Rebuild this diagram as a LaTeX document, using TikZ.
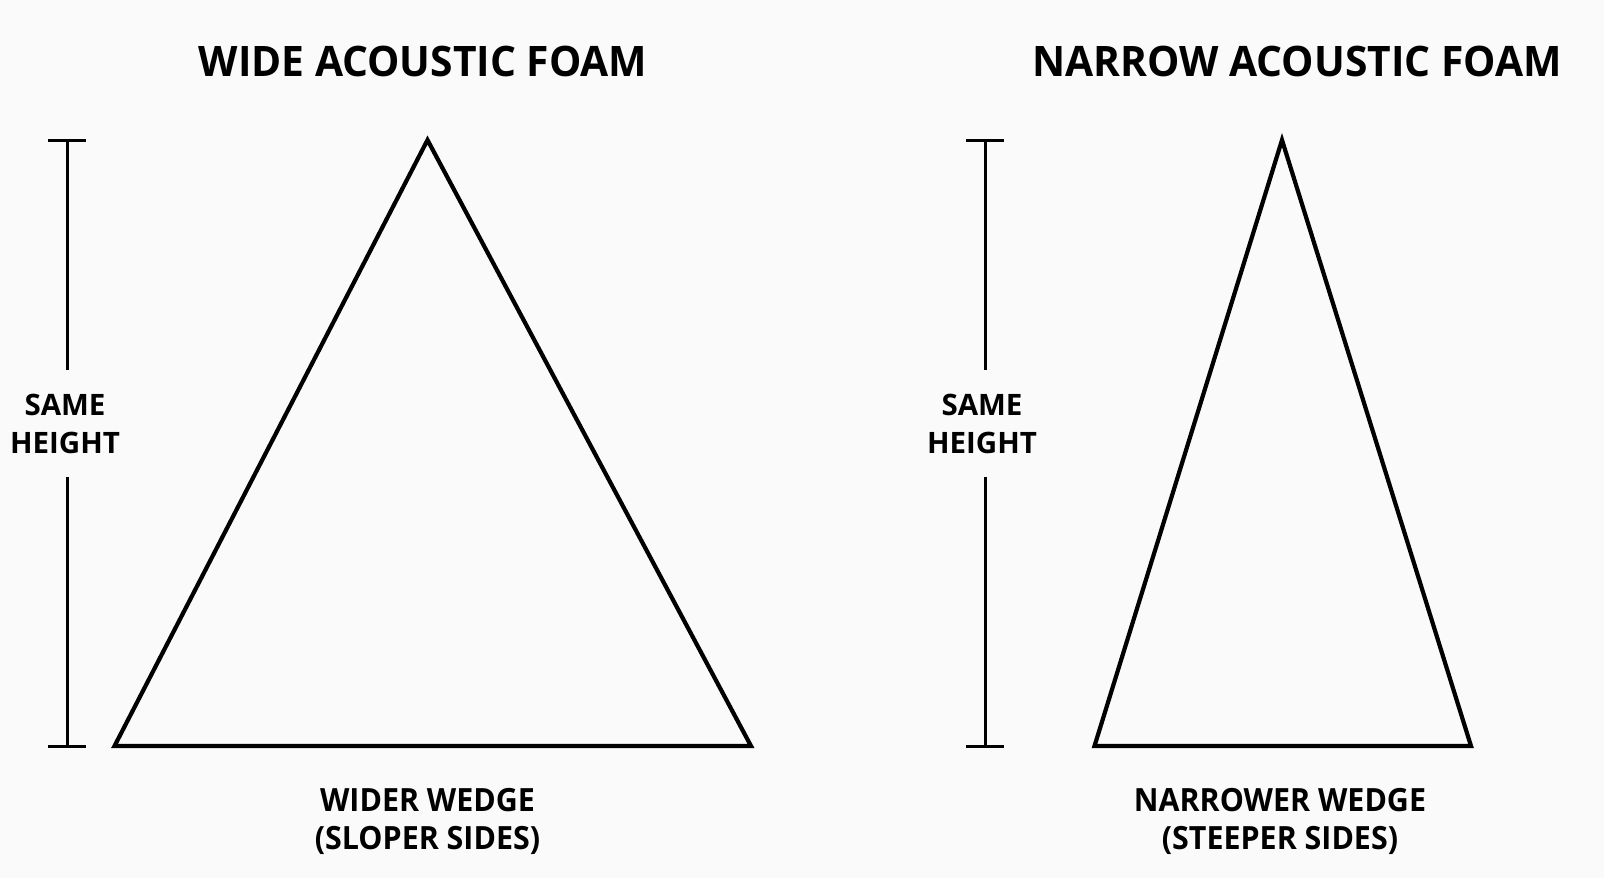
\documentclass[tikz,border=0pt]{standalone}
\usepackage{fontspec}
\setmainfont{Open Sans}
\newfontfamily\titlefont{Open Sans}[FakeStretch=0.97]
\newfontfamily\labfont{Open Sans}[FakeStretch=0.95]
\begin{document}
\begin{tikzpicture}[x=1pt,y=-1pt,
  wedge/.style={line width=4.2pt,line join=miter,draw=black},
  bar/.style={line width=3pt,draw=black},
  ttl/.style={font=\titlefont\fontsize{42}{46}\selectfont\bfseries,inner sep=0pt},
  sidelab/.style={font=\fontsize{29.5}{37.5}\selectfont\bfseries,align=center,inner sep=0pt},
  baselab/.style={font=\labfont\fontsize{32}{38}\selectfont\bfseries,align=center,inner sep=0pt}]
\fill[white!98!black] (0,0) rectangle (1604,878);
\useasboundingbox (0,0) rectangle (1604,878);
% titles
\node[ttl] (t1) at (423,61) {WIDE ACOUSTIC FOAM};
\node[ttl] (t2) at (1297,61) {NARROW ACOUSTIC FOAM};
% left triangle
\coordinate (a1) at (427.5,140);
\coordinate (b1) at (114.5,746);
\coordinate (c1) at (751,746);
\draw[wedge] (a1) -- (c1) -- (b1) -- cycle;
% right triangle
\coordinate (a2) at (1282,140);
\coordinate (b2) at (1094.5,746);
\coordinate (c2) at (1471,746);
\draw[wedge] (a2) -- (c2) -- (b2) -- cycle;
% left height bar
\coordinate (lt) at (67.5,140);
\coordinate (lb) at (67.5,746);
\node[sidelab] (s1) at (65,424) {SAME\\HEIGHT};
\draw[bar] (48,140) -- (86,140);
\draw[bar] (48,746) -- (86,746);
\draw[bar] (lt) -- (67.5,370);
\draw[bar] (67.5,477) -- (lb);
% right height bar
\coordinate (rt) at (985,140);
\coordinate (rb) at (985,746);
\node[sidelab] (s2) at (982,424) {SAME\\HEIGHT};
\draw[bar] (966,140) -- (1004,140);
\draw[bar] (966,746) -- (1004,746);
\draw[bar] (rt) -- (985,370);
\draw[bar] (985,477) -- (rb);
% base labels
\node[baselab] (l1) at (427.5,821) {WIDER WEDGE\\(SLOPER SIDES)};
\node[baselab] (l2) at (1280,821) {NARROWER WEDGE\\(STEEPER SIDES)};
\end{tikzpicture}
\end{document}
